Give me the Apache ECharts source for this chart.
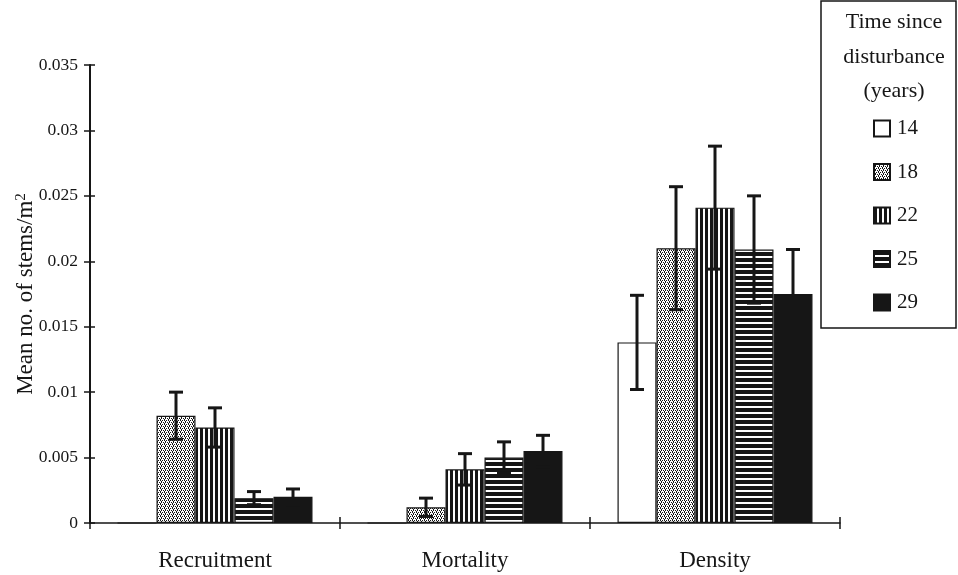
<!DOCTYPE html>
<html>
<head>
<meta charset="utf-8">
<script src="https://cdn.jsdelivr.net/npm/echarts@6/dist/echarts.min.js"></script>
<style>html,body{margin:0;padding:0;background:#fff}#c{width:958px;height:575px}</style>
</head>
<body>
<div id="c"></div>
<script>
const categories = ['Recruitment', 'Mortality', 'Density'];
const years = ['14', '18', '22', '25', '29'];
const mean14 = [0, 0, 0.0138];
const mean18 = [0.0082, 0.0012, 0.0210];
const mean22 = [0.0073, 0.0041, 0.0241];
const mean25 = [0.0019, 0.0050, 0.0209];
const mean29 = [0.0020, 0.0055, 0.0175];
const err14 = [0, 0, 0.0036];
const err18 = [0.0018, 0.0007, 0.0047];
const err22 = [0.0015, 0.0012, 0.0047];
const err25 = [0.0005, 0.0012, 0.0041];
const err29 = [0.0006, 0.0012, 0.0034];
const yTicks = [0, 0.005, 0.01, 0.015, 0.02, 0.025, 0.03, 0.035];
const legendTitle = ['Time since', 'disturbance', '(years)'];

const means = [mean14, mean18, mean22, mean25, mean29];
const errs = [err14, err18, err22, err25, err29];

function makePattern(w, h, draw) {
  const c = document.createElement('canvas');
  c.width = w; c.height = h;
  const ctx = c.getContext('2d');
  ctx.fillStyle = '#fff'; ctx.fillRect(0, 0, w, h);
  ctx.fillStyle = '#161616';
  draw(ctx);
  return { image: c, repeat: 'repeat' };
}
const fills = [
  '#ffffff',
  makePattern(4, 4, ctx => { [[0,0],[2,0],[1,1],[3,2],[1,2],[0,3]].forEach(p => ctx.fillRect(p[0], p[1], 1, 1)); }),
  makePattern(5, 1, ctx => { ctx.fillRect(0, 0, 3, 1); }),
  makePattern(1, 6, ctx => { ctx.fillRect(0, 0, 1, 4); }),
  '#161616'
];

const GAP = 0.22;
const FONT = 'Liberation Serif';
const INK = '#161616';
const series = [];
years.forEach((y, i) => {
  series.push({
    name: y, type: 'bar', data: means[i],
    barGap: '0%', barCategoryGap: (GAP * 100) + '%',
    itemStyle: { color: fills[i], borderColor: INK, borderWidth: 1.2 },
    emphasis: { disabled: true }, z: 2
  });
});
const errData = [];
years.forEach((y, i) => {
  categories.forEach((c, ci) => {
    if (errs[i][ci] > 0) errData.push([ci, means[i][ci] - errs[i][ci], means[i][ci] + errs[i][ci], i]);
  });
});
series.push({
  type: 'custom', data: errData, z: 5, silent: true,
  encode: { x: 0, y: [1, 2] },
  renderItem: function (params, api) {
    const ci = api.value(0), lo = api.value(1), hi = api.value(2), si = api.value(3);
    const band = api.size([1, 0])[0];
    const bw = band * (1 - GAP) / years.length;
    const cx = api.coord([ci, 0])[0] + (si - 2) * bw;
    const yt = api.coord([ci, hi])[1], yb = api.coord([ci, lo])[1];
    const hw = 7;
    const st = { stroke: INK, lineWidth: 3 };
    return { type: 'group', children: [
      { type: 'line', shape: { x1: cx, y1: yt, x2: cx, y2: yb }, style: st },
      { type: 'line', shape: { x1: cx - hw, y1: yt, x2: cx + hw, y2: yt }, style: st },
      { type: 'line', shape: { x1: cx - hw, y1: yb, x2: cx + hw, y2: yb }, style: st }
    ]};
  }
});

const titleY = [22, 57, 91];
const chart = echarts.init(document.getElementById('c'));
chart.setOption({
  animation: false,
  backgroundColor: '#fff',
  textStyle: { fontFamily: FONT },
  grid: { left: 90, right: 118, top: 65, bottom: 52, containLabel: false, outerBoundsMode: 'none' },
  xAxis: [{
    type: 'category', data: categories, position: 'bottom',
    axisLine: { lineStyle: { color: INK, width: 1.5 } },
    axisTick: { show: true, length: 6, lineStyle: { color: INK, width: 1.5 } },
    axisLabel: { fontFamily: FONT, fontSize: 23, color: INK, margin: 26 }
  }, {
    type: 'category', data: categories, position: 'bottom', offset: 0,
    axisLine: { show: false },
    axisTick: { show: true, inside: true, length: 6, lineStyle: { color: INK, width: 1.5 } },
    axisLabel: { show: false }
  }],
  yAxis: [{
    type: 'value', min: yTicks[0], max: yTicks[yTicks.length - 1], interval: 0.005,
    name: 'Mean no. of stems/m{sup|2}', nameLocation: 'middle', nameGap: 53, nameRotate: 90,
    nameMoveOverlap: false,
    nameTextStyle: { fontFamily: FONT, fontSize: 23, color: INK,
      rich: { sup: { fontFamily: FONT, fontSize: 15, color: INK, verticalAlign: 'top', lineHeight: 12 } } },
    axisLine: { show: true, lineStyle: { color: INK, width: 2 } },
    axisTick: { show: true, length: 6, lineStyle: { color: INK, width: 1.5 } },
    splitLine: { show: false },
    axisLabel: { fontFamily: FONT, fontSize: 17.5, color: INK, margin: 12 }
  }, {
    type: 'value', min: yTicks[0], max: yTicks[yTicks.length - 1], interval: 0.005, position: 'left',
    axisLine: { show: false },
    axisTick: { show: true, inside: true, length: 5, lineStyle: { color: INK, width: 1.5 } },
    splitLine: { show: false },
    axisLabel: { show: false }
  }],
  legend: {
    orient: 'vertical', left: 868, top: 113, itemGap: 22.5,
    itemWidth: 16, itemHeight: 16, icon: 'rect',
    data: years, selectedMode: false,
    textStyle: { fontFamily: FONT, fontSize: 21, color: INK, padding: [0, 0, 0, 2] }
  },
  graphic: [
    { type: 'rect', shape: { x: 821, y: 1, width: 135, height: 327 }, style: { fill: 'none', stroke: INK, lineWidth: 1.5 } }
  ].concat(legendTitle.map((t, k) => ({
    type: 'text', x: 894, y: titleY[k],
    style: { text: t, font: '22px "Liberation Serif"', fill: INK, textAlign: 'center', textVerticalAlign: 'middle' }
  }))),
  series: series
});
</script>
</body>
</html>
